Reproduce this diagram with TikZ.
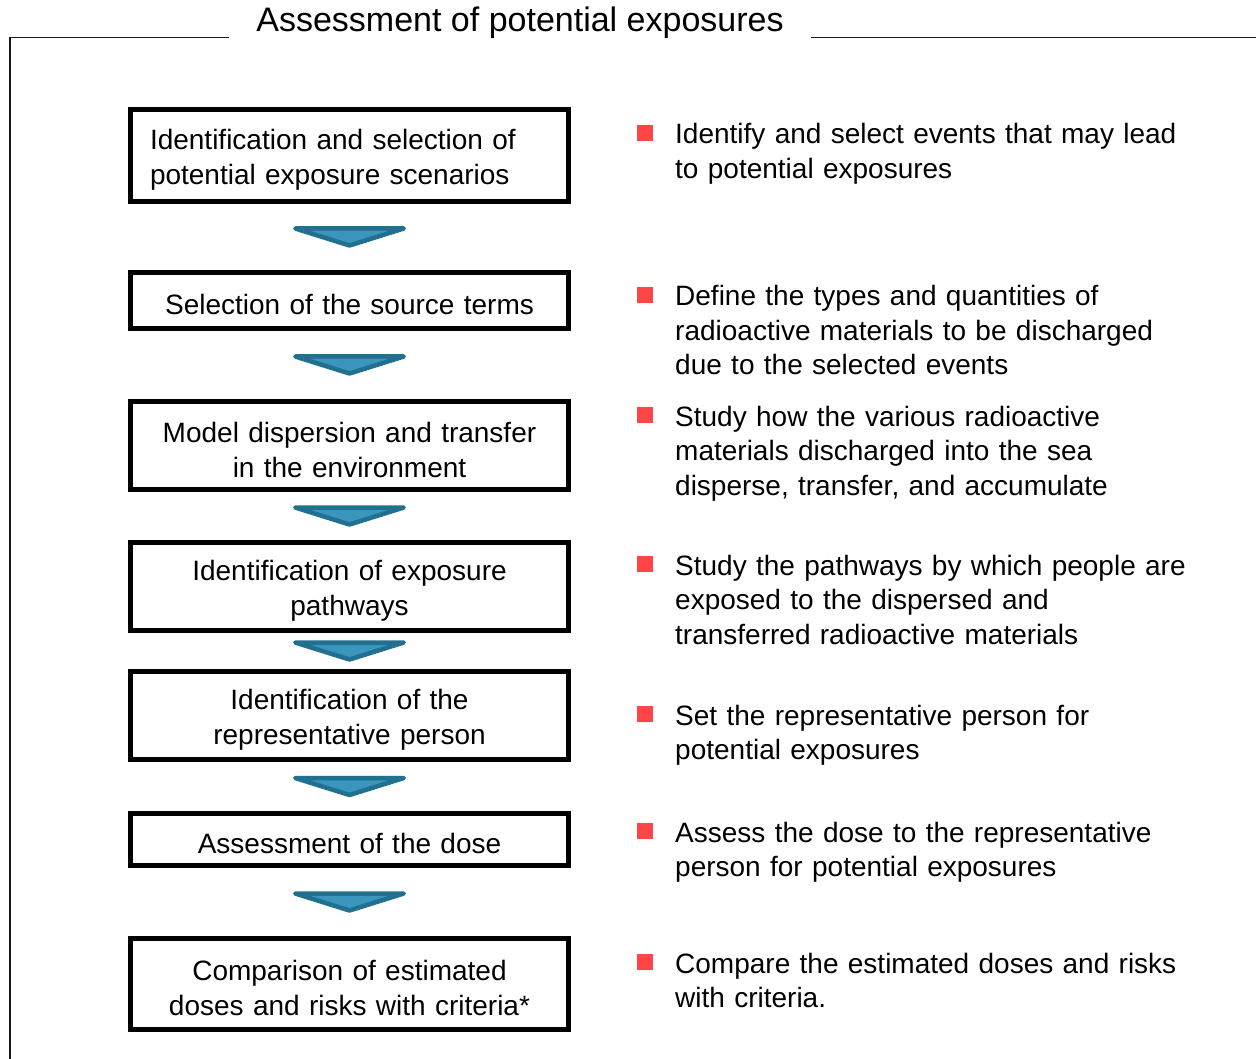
\documentclass[tikz,border=0pt]{standalone}
\usepackage{fontspec}
\setmainfont{Liberation Sans}
\usetikzlibrary{positioning,calc}

\definecolor{chevfill}{HTML}{3A96BC}
\definecolor{chevedge}{HTML}{22708F}
\definecolor{bulletred}{HTML}{FF4545}

\tikzset{
  stepbox/.style={draw, line width=5pt, text width=399pt, inner xsep=19.5pt, inner ysep=0pt,
    align=center, font=\fontsize{28}{35}\selectfont,
    execute at begin node={\rule{0pt}{28.5pt}}},
  note/.style={anchor=base west, text width=560pt, inner sep=0pt, align=left,
    font=\fontsize{28}{34.5}\selectfont},
  bullet/.style={fill=bulletred, minimum size=16pt, inner sep=0pt},
  chevron/.style={draw=chevedge, fill=chevfill, line width=4.5pt, line join=round},
  frame/.style={line width=1.6pt, draw=black!90}
}

\begin{document}
\begin{tikzpicture}[x=1pt,y=-1pt]
    \useasboundingbox (0,0) rectangle (1256,1059);

    % title and frame
    \node[font=\fontsize{34}{38}\selectfont, inner xsep=27pt, inner ysep=0pt, anchor=base] (title) at (520,32) {Assessment of potential exposures};
    \coordinate (ftl) at (10,37.5);
    \draw[frame] (title.west |- ftl) -- (ftl) -- (10,1059);
    \draw[frame] (title.east |- ftl) -- (1256,37.5);

    % steps
    \node[stepbox, align=left, minimum height=92pt] (b1) at (349.5,155.5) {Identification and selection of\\potential exposure scenarios};
    \node[stepbox, minimum height=56pt] (b2) at (349.5,300.5) {Selection of the source terms};
    \node[stepbox, minimum height=88pt] (b3) at (349.5,445.5) {Model dispersion and transfer\\in the environment};
    \node[stepbox, minimum height=88pt] (b4) at (349.5,586.5) {Identification of exposure\\pathways};
    \node[stepbox, minimum height=88pt] (b5) at (349.5,715.5) {Identification of the\\representative person};
    \node[stepbox, minimum height=52pt] (b6) at (349.5,839.5) {Assessment of the dose};
    \node[stepbox, minimum height=91pt] (b7) at (349.5,984) {Comparison of estimated\\doses and risks with criteria*};

    % chevrons between the steps
    \foreach \a/\b in {b1/b2, b2/b3, b3/b4, b4/b5, b5/b6, b6/b7} {
        \coordinate (m) at ($(\a.south)!0.5!(\b.north)$);
        \draw[chevron] ([xshift=-54.25pt,yshift=8.5pt]m) -- ([xshift=54.25pt,yshift=8.5pt]m)
            -- ([yshift=-8.5pt]m) -- cycle;
    }

    % notes
    \node[note] (t1) at (675,144) {Identify and select events that may lead\\to potential exposures};
    \node[note] (t2) at (675,306) {Define the types and quantities of\\radioactive materials to be discharged\\due to the selected events};
    \node[note] (t3) at (675,426) {Study how the various radioactive\\materials discharged into the sea\\disperse, transfer, and accumulate};
    \node[note] (t4) at (675,575) {Study the pathways by which people are\\exposed to the dispersed and\\transferred radioactive materials};
    \node[note] (t5) at (675,725) {Set the representative person for\\potential exposures};
    \node[note] (t6) at (675,842) {Assess the dose to the representative\\person for potential exposures};
    \node[note] (t7) at (675,973) {Compare the estimated doses and risks\\with criteria.};
    \foreach \t in {t1,t2,t3,t4,t5,t6,t7}
        \node[bullet] at ([xshift=-30pt,yshift=11pt]\t.base west) {};
\end{tikzpicture}
\end{document}
